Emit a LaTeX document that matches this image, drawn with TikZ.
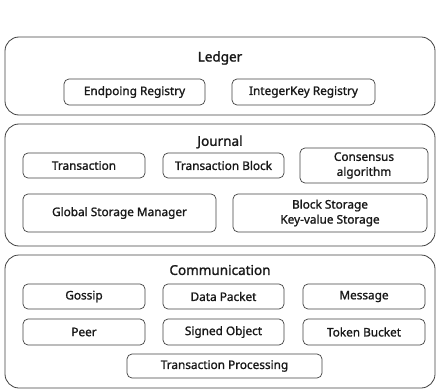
\documentclass[tikz,border=0pt]{standalone}
\usepackage{fontspec}
\setmainfont{Noto Sans}
\newfontfamily\semifont{Noto Sans}[FakeBold=1.3]
\newfontfamily\titlefont{Noto Sans}[FakeBold=1.5]
\begin{document}
\begin{tikzpicture}[x=1pt,y=-1pt,
  outer/.style={draw=black!75,line width=0.8pt,rounded corners=14pt},
  inner/.style={draw=black!75,line width=0.7pt,rounded corners=5pt,align=center,text=black!90,font=\semifont\fontsize{11.8}{15}\selectfont},
  title/.style={text=black!90,font=\titlefont\fontsize{13.5}{15}\selectfont}]
\useasboundingbox (0,0) rectangle (438,390);
% Ledger
\draw[outer] (5,37) rectangle (435,115);
\node[title] (ledger) at (220,58) {Ledger};
\node[inner,minimum width=141pt,minimum height=26pt] (endp) at (134.5,92) {Endpoing Registry};
\node[inner,minimum width=143pt,minimum height=26pt] (intk) at (303.5,92) {IntegerKey Registry};
% Journal
\draw[outer] (5,124) rectangle (435,246);
\node[title] (journal) at (220,142) {Journal};
\node[inner,minimum width=122pt,minimum height=25pt] (tx) at (84,165.5) {Transaction};
\node[inner,minimum width=121pt,minimum height=25pt] (txb) at (223.5,165.5) {Transaction Block};
\node[inner,minimum width=128pt,minimum height=35pt] (cons) at (364,165.5) {Consensus\\algorithm};
\node[inner,minimum width=193pt,minimum height=38pt] (gsm) at (119.5,213) {Global Storage Manager};
\node[inner,minimum width=194pt,minimum height=38pt] (bs) at (330,213) {Block Storage\\Key-value Storage};
% Communication
\draw[outer] (5,255) rectangle (435,388);
\node[title] (comm) at (220,270) {Communication};
\node[inner,minimum width=122pt,minimum height=25pt] (gossip) at (84,296.5) {Gossip};
\node[inner,minimum width=121pt,minimum height=25pt] (dp) at (223.5,296.5) {Data Packet};
\node[inner,minimum width=122pt,minimum height=25pt] (msg) at (364,296.5) {Message};
\node[inner,minimum width=122pt,minimum height=26pt] (peer) at (84,332) {Peer};
\node[inner,minimum width=121pt,minimum height=26pt] (so) at (223.5,332) {Signed Object};
\node[inner,minimum width=122pt,minimum height=26pt] (tb) at (364,332) {Token Bucket};
\node[inner,minimum width=195pt,minimum height=24pt] (tp) at (224.5,366) {Transaction Processing};
\end{tikzpicture}
\end{document}
